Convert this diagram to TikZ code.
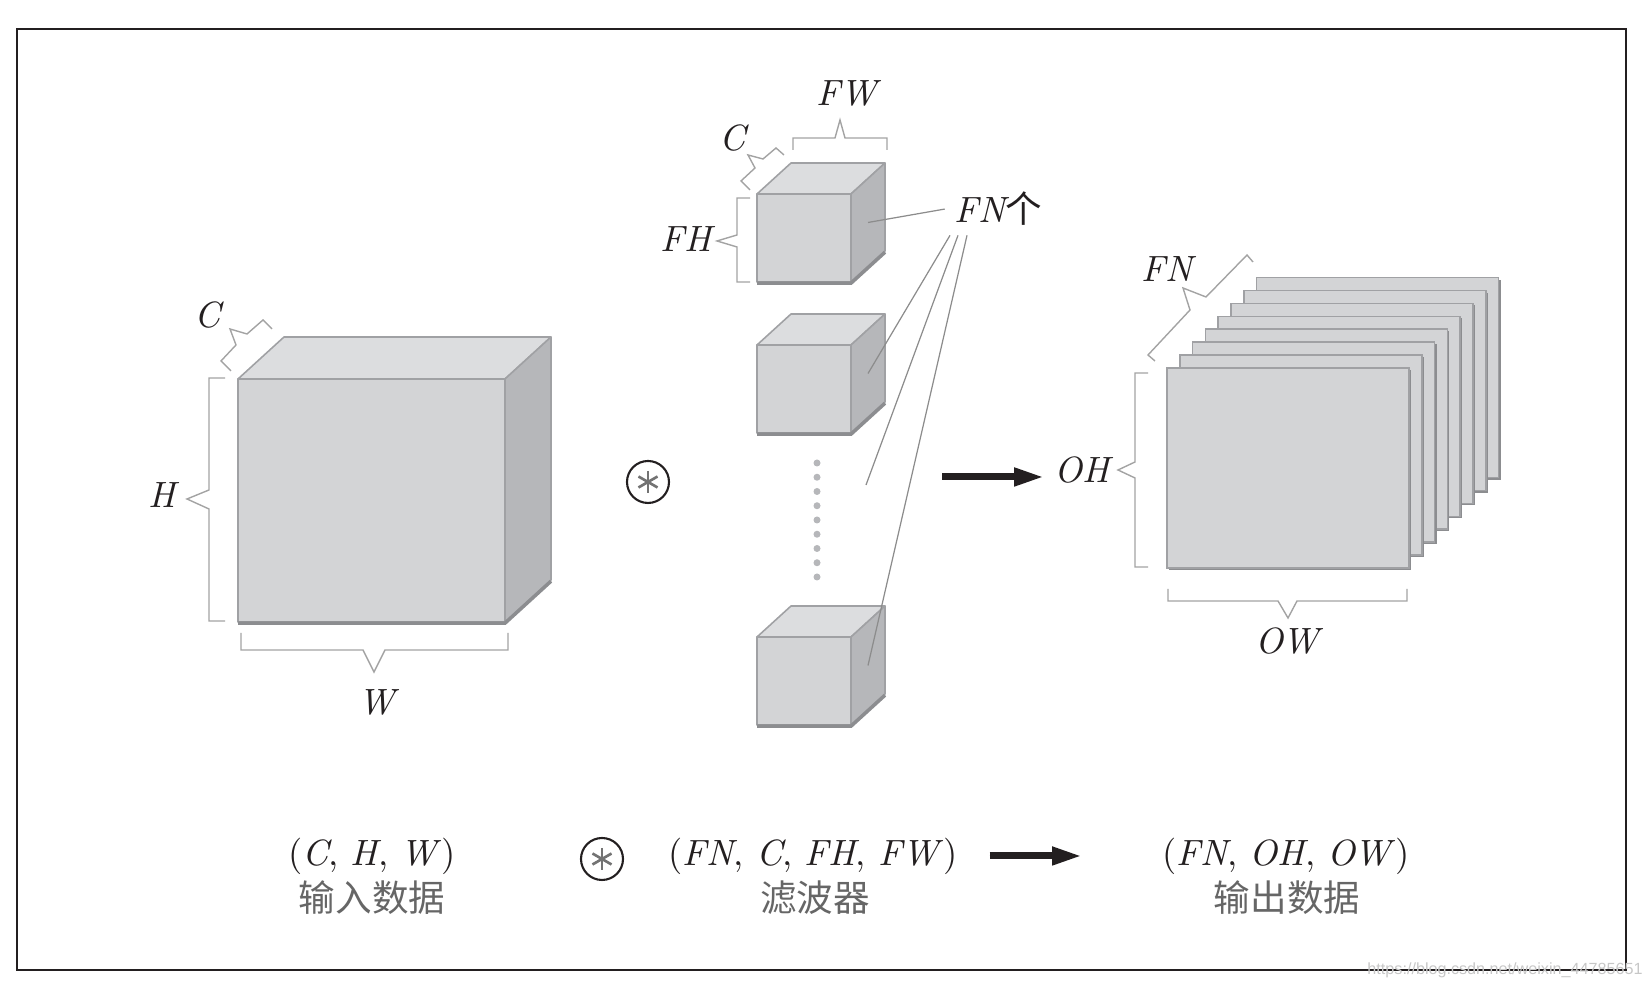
\documentclass[tikz,border=0pt]{standalone}
\usepackage{fontspec}
\usepackage{tikz}
\usetikzlibrary{arrows.meta}
\usepackage{xcolor}
\newfontfamily\cjk{Noto Sans CJK SC}
\newfontfamily\wmfont{Liberation Sans}
\definecolor{faceF}{HTML}{D3D4D6}
\definecolor{faceT}{HTML}{DCDDDF}
\definecolor{faceR}{HTML}{B6B7BA}
\definecolor{edgegray}{HTML}{A0A1A4}
\definecolor{shadegray}{HTML}{8C8D90}
\definecolor{bracegray}{HTML}{A3A3A3}
\definecolor{ink}{HTML}{231F20}
\newcommand{\drawcube}[7]{%
  \coordinate (#1) at (#2,#3);
  \filldraw[cubeedge, fill=faceT] (#2,#3+#5) -- ++(#6,#7) -- ++(#4,0) -- ++(-#6,-#7) -- cycle;
  \filldraw[cubeedge, fill=faceR] (#2+#4,#3) -- ++(#6,#7) -- ++(0,#5) -- ++(-#6,-#7) -- cycle;
  \filldraw[cubeedge, fill=faceF] (#2,#3) rectangle ++(#4,#5);
  \draw[cubeshadow] (#2,#3-0.012) -- ++(#4,0) -- ++(#6,#7);
  \coordinate (#1-side) at (#2+#4+0.5*#6,#3+0.5*#5+0.5*#7);
}

\begin{document}
\begin{tikzpicture}[
    lbl/.style={text=ink, font=\fontsize{10.4}{12}\selectfont\itshape, inner sep=1pt},
    shapelbl/.style={text=ink, font=\fontsize{10.4}{12}\selectfont, inner sep=1pt},
    captxt/.style={text=black!60, font=\fontsize{10.4}{12}\selectfont\cjk, inner sep=1pt},
    cubeedge/.style={draw=edgegray, line width=0.45pt, line join=round},
    cubeshadow/.style={draw=shadegray, line width=1pt},
    sheet/.style={draw=edgegray, line width=0.45pt, fill=faceF},
    brace/.style={draw=bracegray, line width=0.4pt},
    pointer/.style={draw=black!45, line width=0.35pt},
    convop/.style={circle, draw=ink, line width=0.6pt, minimum size=0.42cm, inner sep=0pt},
    bigarrow/.style={-{Triangle[length=0.30cm,width=0.17cm]}, draw=ink, fill=ink, line width=0.07cm}
]
    \useasboundingbox (0,0) rectangle (16.48,9.88);
    \draw[ink, line width=0.7pt] (0.17,9.59) rectangle (16.26,0.18);

    \drawcube{incube}{2.38}{3.66}{2.67}{2.43}{0.46}{0.42}
    \draw[brace] (2.25,6.10) -- (2.09,6.10) -- (2.09,4.98) -- (1.87,4.89) -- (2.09,4.79) -- (2.09,3.67) -- (2.25,3.67);
    \draw[brace] (2.41,3.55) -- (2.41,3.38) -- (3.63,3.38) -- (3.74,3.16) -- (3.85,3.38) -- (5.08,3.38) -- (5.08,3.55);
    \draw[brace] (2.31,6.17) -- (2.21,6.27) -- (2.36,6.43) -- (2.30,6.59) -- (2.47,6.54) -- (2.63,6.68) -- (2.72,6.59);
    \node[lbl] (inH) at (1.62,4.93) {H};
    \node[lbl] (inW) at (3.77,2.86) {W};
    \node[lbl] (inC) at (2.08,6.73) {C};

    \node[convop] (conv1) at (6.48,5.06) {};

    \drawcube{c1}{7.57}{7.06}{0.94}{0.88}{0.34}{0.31}
    \drawcube{c2}{7.57}{5.55}{0.94}{0.88}{0.34}{0.31}
    \drawcube{c3}{7.57}{2.63}{0.94}{0.88}{0.34}{0.31}
    \foreach \i in {0,...,8}
        \fill[faceR] (8.17,5.25-\i*0.1425) circle (0.035);
    \draw[brace] (7.50,7.90) -- (7.37,7.90) -- (7.37,7.53) -- (7.17,7.47) -- (7.37,7.41) -- (7.37,7.06) -- (7.50,7.06);
    \draw[brace] (7.93,8.38) -- (7.93,8.50) -- (8.35,8.50) -- (8.40,8.68) -- (8.45,8.50) -- (8.87,8.50) -- (8.87,8.38);
    \draw[brace] (7.50,7.98) -- (7.41,8.07) -- (7.55,8.20) -- (7.48,8.33) -- (7.63,8.29) -- (7.76,8.40) -- (7.84,8.33);
    \node[lbl] (fH) at (6.86,7.49) {FH};
    \node[lbl] (fW) at (8.47,8.95) {FW};
    \node[lbl] (fC) at (7.33,8.50) {C};

    \node[lbl, anchor=base, inner sep=2.5pt] (fn) at (9.98,7.65) {FN\upshape\cjk 个};
    \coordinate (dotsend) at (8.66,5.03);
    \draw[pointer] (fn.west) -- (c1-side);
    \draw[pointer] ([xshift=-0.48cm]fn.south) -- (c2-side);
    \draw[pointer] ([xshift=-0.40cm]fn.south) -- (dotsend);
    \draw[pointer] ([xshift=-0.31cm]fn.south) -- (c3-side);

    \node[lbl] (oh) at (10.82,5.18) {OH};
    \coordinate (arrtail) at (9.42,5.11);
    \draw[bigarrow, shorten >=0.06cm] (arrtail) -- (arrtail -| oh.west);

    \foreach \i in {7,...,0} {
        \fill[shadegray] (11.69+\i*0.128,4.18+\i*0.129) rectangle ++(2.42,2.00);
        \filldraw[sheet] (11.67+\i*0.128,4.20+\i*0.129) rectangle ++(2.42,2.00);
    }
    \draw[brace] (11.48,6.15) -- (11.35,6.15) -- (11.35,5.26) -- (11.18,5.18) -- (11.35,5.10) -- (11.35,4.21) -- (11.48,4.21);
    \draw[brace] (11.68,3.99) -- (11.68,3.87) -- (12.78,3.87) -- (12.88,3.70) -- (12.97,3.87) -- (14.07,3.87) -- (14.07,3.99);
    \draw[brace] (11.55,6.27) -- (11.48,6.33) -- (11.90,6.78) -- (11.83,7.00) -- (12.06,6.91) -- (12.47,7.33) -- (12.53,7.26);
    \node[lbl] (oW) at (12.87,3.47) {OW};
    \node[lbl] (oFN) at (11.67,7.19) {FN};

    \node[shapelbl] (inshape) at (3.72,1.32) {(\textit{C}, \textit{H}, \textit{W})};
    \node[captxt] (incap) at (3.72,0.90) {输入数据};
    \node[convop] (conv2) at (6.02,1.29) {};
    \node[shapelbl] (fshape) at (8.13,1.32) {(\textit{FN}, \textit{C}, \textit{FH}, \textit{FW})};
    \node[captxt] (fcap) at (8.15,0.90) {滤波器};
    \node[shapelbl] (oshape) at (12.86,1.32) {(\textit{FN}, \textit{OH}, \textit{OW})};
    \node[captxt] (ocap) at (12.87,0.90) {输出数据};
    \draw[bigarrow, shorten <=0.28cm, shorten >=0.76cm] (fshape.east) -- (oshape.west);

    \foreach \n in {conv1,conv2}
        \foreach \a in {90,30,150}
            \draw[black!55, line width=0.75pt] (\n.center) ++(\a:0.11) -- ++(\a+180:0.22);

    \node[text=black!22, font=\wmfont\fontsize{4.6}{5}\selectfont, inner sep=0pt] (wm) at (15.05,0.18) {https://blog.csdn.net/weixin\_44785651};
\end{tikzpicture}
\end{document}
